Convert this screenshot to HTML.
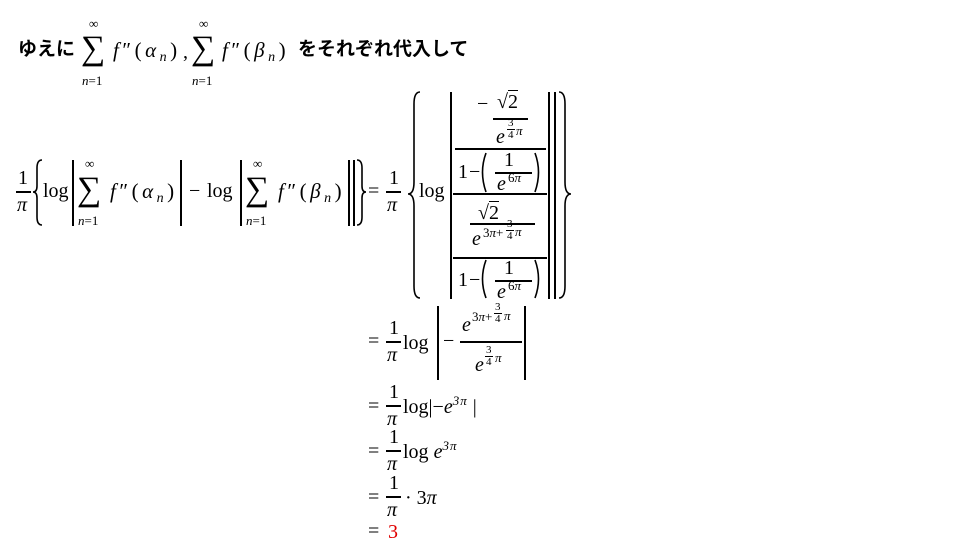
<!DOCTYPE html>
<html><head><meta charset="utf-8"><style>
body{margin:0;background:#fff;}
#c{position:relative;width:954px;height:558px;overflow:hidden;background:#fff;}
.t{position:absolute;font-family:"Liberation Serif",serif;font-size:20px;line-height:20px;white-space:nowrap;color:#000;}
.s{font-size:13px;line-height:13px;}
.x{font-size:11px;line-height:11px;}
.j{position:absolute;font-family:"Liberation Sans","Noto Sans CJK JP",sans-serif;font-size:19px;line-height:20px;font-weight:bold;white-space:nowrap;}
.sum{font-size:34px;line-height:34px;}
.f{font-size:21px;letter-spacing:3.5px;}
.l{position:absolute;background:#000;height:1.5px;}
.b{position:absolute;background:#000;width:2px;}
i{font-style:italic;}
sub{font-size:14px;vertical-align:-4px;line-height:0;font-style:italic;}
sup{font-size:13px;vertical-align:8px;line-height:0;font-style:italic;letter-spacing:1px;}
</style></head><body><div id="c">

<div class="j" style="left:18px;top:40px">ゆえに</div>
<div class="t sum" style="left:81px;top:32px">∑</div>
<div class="t s" style="left:89px;top:17px">∞</div>
<div class="t s" style="left:82px;top:74px"><i>n</i>=1</div>
<div class="t f" style="left:113px;top:40px"><i>f</i>″(<i>α</i><sub>n</sub>)</div>
<div class="t" style="left:183px;top:42px">,</div>
<div class="t sum" style="left:191px;top:32px">∑</div>
<div class="t s" style="left:199px;top:17px">∞</div>
<div class="t s" style="left:192px;top:74px"><i>n</i>=1</div>
<div class="t f" style="left:222px;top:40px"><i>f</i>″(<i>β</i><sub>n</sub>)</div>
<div class="j" style="left:298px;top:40px">をそれぞれ代入して</div>

<div class="t" style="left:18px;top:168px">1</div>
<div class="l" style="left:16px;width:15px;top:191px"></div>
<div class="t" style="left:17px;top:195px"><i>π</i></div>
<svg style="position:absolute;left:0;top:0" width="954" height="558">
 <g fill="none" stroke="#000" stroke-width="1.6">
  <path d="M42 160 Q37 160 37 168 L37 186 Q37 192 33 192 Q37 192 37 198 L37 217 Q37 225 42 225"/>
  <path d="M357 160 Q362 160 362 168 L362 186 Q362 192 366 192 Q362 192 362 198 L362 217 Q362 225 357 225"/>
  <path d="M420 92 Q414 92 414 104 L414 182 Q414 194 408 194 Q414 194 414 206 L414 286 Q414 298 420 298"/>
  <path d="M559 92 Q565 92 565 104 L565 182 Q565 194 571 194 Q565 194 565 206 L565 286 Q565 298 559 298"/>
  <path d="M486 153 Q479 172 486 192"/>
  <path d="M535 153 Q542 172 535 192"/>
  <path d="M486 260 Q479 279 486 298"/>
  <path d="M535 260 Q542 279 535 298"/>
 </g>
</svg>
<div class="t" style="left:43px;top:181px">log</div>
<div class="b" style="left:72px;top:160px;height:66px"></div>
<div class="t sum" style="left:77px;top:173px">∑</div>
<div class="t s" style="left:85px;top:157px">∞</div>
<div class="t s" style="left:78px;top:214px"><i>n</i>=1</div>
<div class="t f" style="left:110px;top:181px"><i>f</i>″(<i>α</i><sub>n</sub>)</div>
<div class="b" style="left:180px;top:160px;height:66px"></div>
<div class="t" style="left:189px;top:181px">−</div>
<div class="t" style="left:207px;top:181px">log</div>
<div class="b" style="left:240px;top:160px;height:66px"></div>
<div class="t sum" style="left:245px;top:173px">∑</div>
<div class="t s" style="left:253px;top:157px">∞</div>
<div class="t s" style="left:246px;top:214px"><i>n</i>=1</div>
<div class="t f" style="left:278px;top:181px"><i>f</i>″(<i>β</i><sub>n</sub>)</div>
<div class="b" style="left:348px;top:160px;height:66px"></div>
<div class="b" style="left:353px;top:160px;height:66px"></div>
<div class="t" style="left:368px;top:181px">=</div>
<div class="t" style="left:389px;top:168px">1</div>
<div class="l" style="left:386px;width:15px;top:191px"></div>
<div class="t" style="left:387px;top:195px"><i>π</i></div>
<div class="t" style="left:419px;top:181px">log</div>
<div class="b" style="left:450px;top:92px;height:207px"></div>
<div class="b" style="left:548px;top:92px;height:207px"></div>
<div class="b" style="left:554px;top:92px;height:207px"></div>

<div class="t" style="left:477px;top:94px">−</div>
<div class="t" style="left:497px;top:92px">√<span style="border-top:1.5px solid #000">2</span></div>
<div class="l" style="left:493px;width:35px;top:118px"></div>
<div class="t" style="left:496px;top:127px"><i>e</i></div>
<div class="t x" style="left:508px;top:118px">3</div>
<div class="l" style="left:507px;width:8px;top:129px;height:1px"></div>
<div class="t x" style="left:508px;top:130px">4</div>
<div class="t s" style="left:516px;top:124px"><i>π</i></div>
<div class="l" style="left:455px;width:91px;top:148px"></div>
<div class="t" style="left:458px;top:162px">1</div>
<div class="t" style="left:469px;top:162px">−</div>
<div class="t" style="left:504px;top:150px">1</div>
<div class="l" style="left:495px;width:37px;top:172px"></div>
<div class="t" style="left:497px;top:174px"><i>e</i></div>
<div class="t s" style="left:508px;top:171px">6<i>π</i></div>
<div class="l" style="left:453px;width:94px;top:193px"></div>

<div class="t" style="left:478px;top:203px">√<span style="border-top:1.5px solid #000">2</span></div>
<div class="l" style="left:470px;width:65px;top:223px"></div>
<div class="t" style="left:472px;top:229px"><i>e</i></div>
<div class="t s" style="left:483px;top:226px">3<i>π</i>+</div>
<div class="t x" style="left:507px;top:219px">3</div>
<div class="l" style="left:506px;width:8px;top:230px;height:1px"></div>
<div class="t x" style="left:507px;top:231px">4</div>
<div class="t s" style="left:515px;top:225px"><i>π</i></div>
<div class="l" style="left:453px;width:94px;top:257px"></div>
<div class="t" style="left:458px;top:270px">1</div>
<div class="t" style="left:469px;top:270px">−</div>
<div class="t" style="left:504px;top:258px">1</div>
<div class="l" style="left:495px;width:37px;top:280px"></div>
<div class="t" style="left:497px;top:282px"><i>e</i></div>
<div class="t s" style="left:508px;top:279px">6<i>π</i></div>

<div class="t" style="left:368px;top:331px">=</div>
<div class="t" style="left:389px;top:318px">1</div>
<div class="l" style="left:386px;width:15px;top:341px"></div>
<div class="t" style="left:387px;top:345px"><i>π</i></div>
<div class="t" style="left:403px;top:333px">log</div>
<div class="b" style="left:437px;top:306px;height:74px"></div>
<div class="b" style="left:524px;top:306px;height:74px"></div>
<div class="t" style="left:443px;top:331px">−</div>
<div class="t" style="left:462px;top:315px"><i>e</i></div>
<div class="t s" style="left:472px;top:310px">3<i>π</i>+</div>
<div class="t x" style="left:495px;top:302px">3</div>
<div class="l" style="left:494px;width:8px;top:313px;height:1px"></div>
<div class="t x" style="left:495px;top:314px">4</div>
<div class="t s" style="left:504px;top:309px"><i>π</i></div>
<div class="l" style="left:460px;width:62px;top:341px"></div>
<div class="t" style="left:475px;top:355px"><i>e</i></div>
<div class="t x" style="left:486px;top:345px">3</div>
<div class="l" style="left:485px;width:8px;top:356px;height:1px"></div>
<div class="t x" style="left:486px;top:357px">4</div>
<div class="t s" style="left:495px;top:351px"><i>π</i></div>

<div class="t" style="left:368px;top:396px">=</div>
<div class="t" style="left:389px;top:382px">1</div>
<div class="l" style="left:386px;width:15px;top:405px"></div>
<div class="t" style="left:387px;top:409px"><i>π</i></div>
<div class="t" style="left:403px;top:397px">log|−<i>e</i><sup>3π</sup>&nbsp;|</div>

<div class="t" style="left:368px;top:441px">=</div>
<div class="t" style="left:389px;top:427px">1</div>
<div class="l" style="left:386px;width:15px;top:450px"></div>
<div class="t" style="left:387px;top:454px"><i>π</i></div>
<div class="t" style="left:403px;top:442px">log <i>e</i><sup>3π</sup></div>

<div class="t" style="left:368px;top:487px">=</div>
<div class="t" style="left:389px;top:473px">1</div>
<div class="l" style="left:386px;width:15px;top:496px"></div>
<div class="t" style="left:387px;top:500px"><i>π</i></div>
<div class="t" style="left:405px;top:488px">· 3<i>π</i></div>

<div class="t" style="left:368px;top:521px">=</div>
<div class="t" style="left:388px;top:522px;color:#e00000">3</div>

</div></body></html>
